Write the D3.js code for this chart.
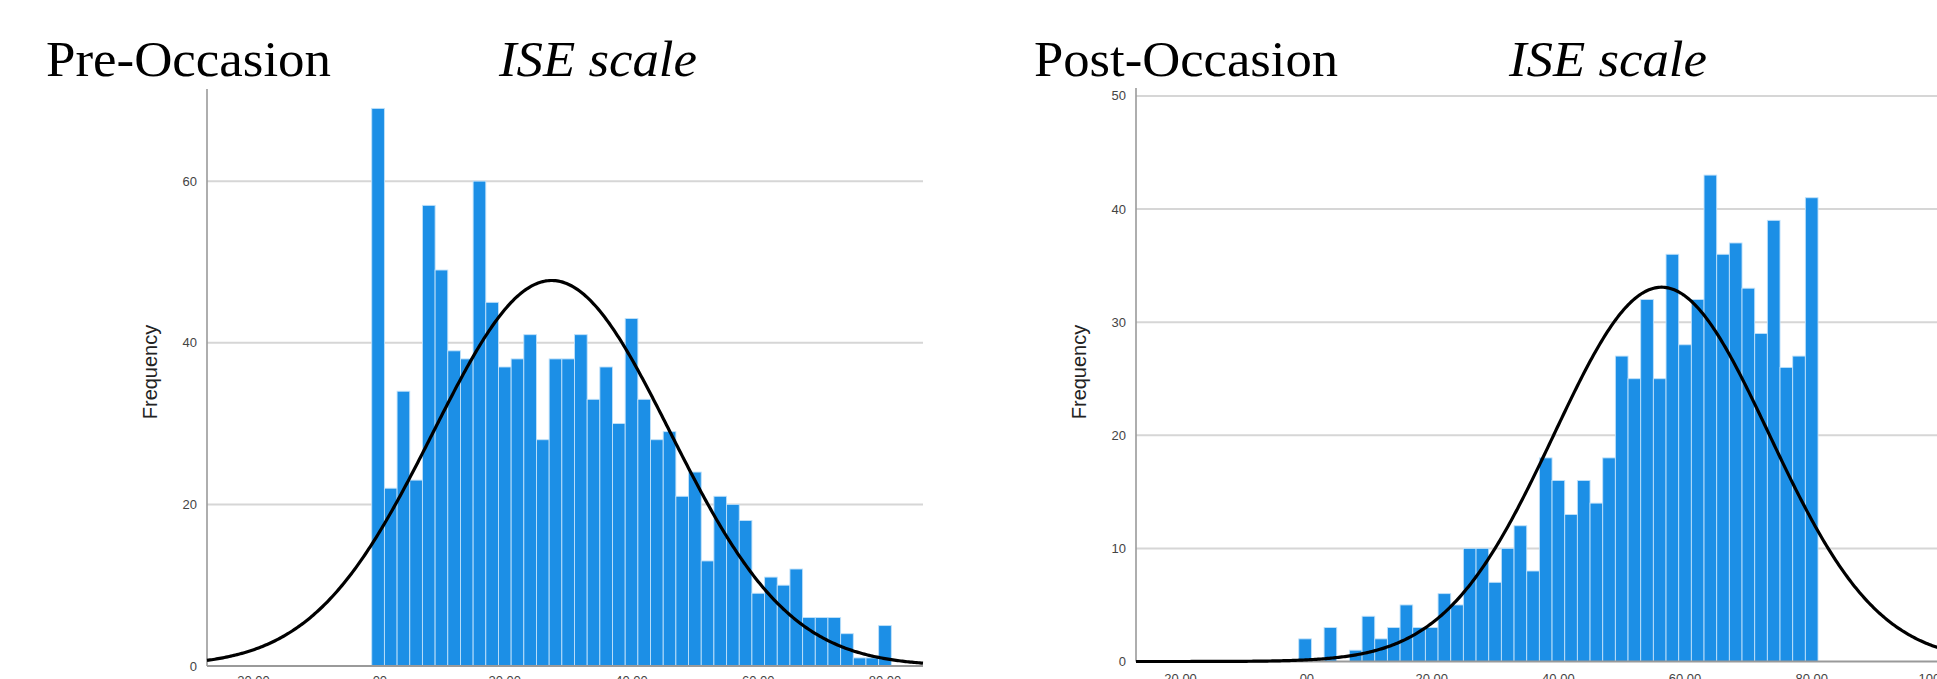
<!DOCTYPE html>
<html>
<head>
<meta charset="utf-8">
<script src="https://cdn.jsdelivr.net/npm/d3@7"></script>
<style>
  html, body { margin: 0; padding: 0; background: #fff; overflow: hidden; }
  svg { display: block; }
</style>
</head>
<body>
<div id="chart"></div>
<script>
// ISE scale histograms, pre and post occasion (bins of width 2 centred on even scores)
const binCentres = [0, 2, 4, 6, 8, 10, 12, 14, 16, 18, 20, 22, 24, 26, 28, 30, 32, 34, 36, 38, 40,
                    42, 44, 46, 48, 50, 52, 54, 56, 58, 60, 62, 64, 66, 68, 70, 72, 74, 76, 78, 80]
const preCounts  = [69, 22, 34, 23, 57, 49, 39, 38, 60, 45, 37, 38, 41, 28, 38, 38, 41, 33, 37, 30, 43,
                    33, 28, 29, 21, 24, 13, 21, 20, 18, 9, 11, 10, 12, 6, 6, 6, 4, 1, 1, 5]
const postCounts = [2, 0, 3, 0, 1, 4, 2, 3, 5, 3, 3, 6, 5, 10, 10, 7, 10, 12, 8, 18, 16,
                    13, 16, 14, 18, 27, 25, 32, 25, 36, 28, 32, 43, 36, 37, 33, 29, 39, 26, 27, 41]

// fitted normal curves (mean / sd)
const preMean = 27.4, preSd = 18.7
const postMean = 56.3, postSd = 17.0

const xTicks = [-20, 0, 20, 40, 60, 80, 100]
const preYTicks = [0, 20, 40, 60]
const postYTicks = [0, 10, 20, 30, 40, 50]
const BIN_WIDTH = 2

const WIDTH = 1937
const HEIGHT = 679

const svg = d3.select('#chart').append('svg')
    .attr('width', WIDTH)
    .attr('height', HEIGHT)
    .style('font-family', '"Liberation Sans", Arial, sans-serif')

function drawHistogram(cfg) {
    const x = d3.scaleLinear().domain(cfg.xDomain).range([cfg.left, cfg.right])
    const y = d3.scaleLinear().domain(cfg.yDomain).range([cfg.bottom, cfg.top])
    const g = svg.append('g')

    // gridlines
    g.selectAll('line.grid')
        .data(cfg.yTicks.filter(d => d > 0))
        .enter().append('line')
        .attr('class', 'grid')
        .attr('x1', cfg.left).attr('x2', cfg.right)
        .attr('y1', d => y(d)).attr('y2', d => y(d))
        .attr('stroke', '#d6d6d6')
        .attr('stroke-width', 2)

    // bars
    const bins = cfg.counts.map((c, i) => ({centre: binCentres[i], count: c})).filter(d => d.count > 0)
    g.selectAll('rect')
        .data(bins)
        .enter().append('rect')
        .attr('x', d => x(d.centre - BIN_WIDTH / 2))
        .attr('width', d => x(d.centre + BIN_WIDTH / 2) - x(d.centre - BIN_WIDTH / 2))
        .attr('y', d => y(d.count))
        .attr('height', d => y(0) - y(d.count))
        .attr('fill', '#1c8fe6')
        .attr('stroke', '#bfe1fa')
        .attr('stroke-width', 0.9)

    // axis lines
    g.append('line')
        .attr('x1', cfg.left).attr('x2', cfg.left)
        .attr('y1', cfg.top).attr('y2', cfg.bottom)
        .attr('stroke', '#9a9a9a').attr('stroke-width', 1.6)
    g.append('line')
        .attr('x1', cfg.left).attr('x2', cfg.right)
        .attr('y1', cfg.bottom).attr('y2', cfg.bottom)
        .attr('stroke', '#9a9a9a').attr('stroke-width', 2)

    // normal curve
    const n = d3.sum(cfg.counts)
    const peak = n * BIN_WIDTH / (cfg.sd * Math.sqrt(2 * Math.PI))
    const pts = d3.range(cfg.xDomain[0], cfg.xDomain[1] + 0.25, 0.25)
        .map(v => [v, peak * Math.exp(-((v - cfg.mean) ** 2) / (2 * cfg.sd * cfg.sd))])
    g.append('path')
        .datum(pts)
        .attr('fill', 'none')
        .attr('stroke', '#000')
        .attr('stroke-width', 3.2)
        .attr('d', d3.line().x(d => x(d[0])).y(d => y(d[1])))

    // y tick labels
    g.selectAll('text.ytick')
        .data(cfg.yTicks)
        .enter().append('text')
        .attr('class', 'ytick')
        .attr('x', cfg.left - 10)
        .attr('y', d => y(d))
        .attr('dy', '0.35em')
        .attr('text-anchor', 'end')
        .attr('font-size', 13)
        .attr('fill', '#444')
        .text(d => d)

    // x tick labels (mostly cut off by the bottom edge, as in the source image)
    g.selectAll('text.xtick')
        .data(xTicks.filter(d => d >= cfg.xDomain[0] && d <= cfg.xDomain[1]))
        .enter().append('text')
        .attr('class', 'xtick')
        .attr('x', d => x(d))
        .attr('y', cfg.xLabelY)
        .attr('text-anchor', 'middle')
        .attr('font-size', 13)
        .attr('fill', '#444')
        .text(d => d === 0 ? '.00' : d.toFixed(2))

    // axis title
    g.append('text')
        .attr('transform', `translate(${cfg.yTitleX},${cfg.yTitleY}) rotate(-90)`)
        .attr('text-anchor', 'middle')
        .attr('dy', '0.35em')
        .attr('font-size', 20)
        .attr('fill', '#222')
        .text('Frequency')

    // panel headings
    svg.append('text')
        .attr('x', cfg.headX).attr('y', 76)
        .attr('font-family', '"Liberation Serif", "Times New Roman", serif')
        .attr('font-size', 50)
        .attr('textLength', cfg.headLen).attr('lengthAdjust', 'spacingAndGlyphs')
        .text(cfg.heading)
    svg.append('text')
        .attr('x', cfg.scaleX).attr('y', 76)
        .attr('font-family', '"Liberation Serif", "Times New Roman", serif')
        .attr('font-style', 'italic')
        .attr('font-size', 50)
        .attr('textLength', 198).attr('lengthAdjust', 'spacingAndGlyphs')
        .text('ISE scale')
}

drawHistogram({
    heading: 'Pre-Occasion', headX: 46, headLen: 285, scaleX: 499,
    counts: preCounts, mean: preMean, sd: preSd, yTicks: preYTicks,
    xDomain: [-27, 86], yDomain: [0, 71.4],
    left: 207, right: 923, top: 89, bottom: 666,
    xLabelY: 685, yTitleX: 150, yTitleY: 372
})

drawHistogram({
    heading: 'Post-Occasion', headX: 1034, headLen: 304, scaleX: 1509,
    counts: postCounts, mean: postMean, sd: postSd, yTicks: postYTicks,
    xDomain: [-26.7, 105], yDomain: [0, 50.7],
    left: 1136, right: 1970, top: 88, bottom: 661.5,
    xLabelY: 683, yTitleX: 1079, yTitleY: 372
})
</script>
</body>
</html>
